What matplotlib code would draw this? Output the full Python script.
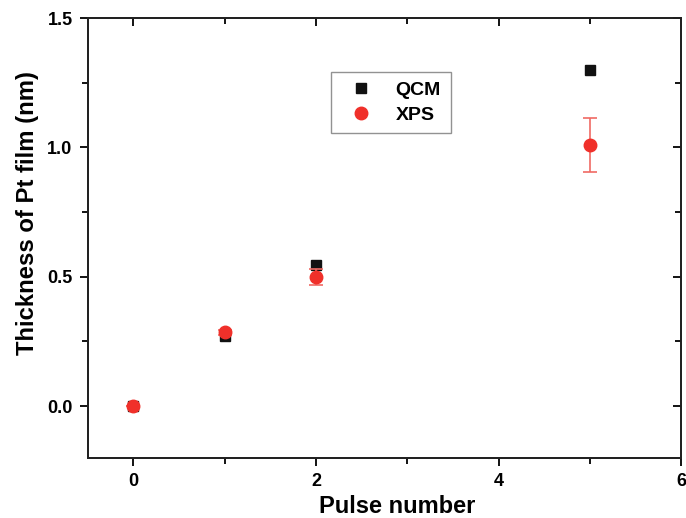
import matplotlib
matplotlib.use('Agg')
import matplotlib.pyplot as plt
from matplotlib.ticker import MultipleLocator

plt.rcParams['font.family'] = ['Liberation Sans', 'DejaVu Sans']
plt.rcParams['font.weight'] = 'bold'

# data
pulses = [0, 1, 2, 5]
qcm = [0.0, 0.27, 0.545, 1.30]
xps = [0.0, 0.285, 0.50, 1.01]
xps_err = [0.0, 0.01, 0.03, 0.105]

fig = plt.figure(figsize=(6.86, 5.18), dpi=100)
ax = fig.add_axes([0.128, 0.116, 0.865, 0.849])

l1, = ax.plot(pulses, qcm, 's', color='#111111', markersize=7, label='QCM', zorder=3)
eb = ax.errorbar(pulses, xps, yerr=xps_err, fmt='o', color='#f0302a', ecolor='#f06a64',
                 markersize=9, elinewidth=1.2, capsize=5, capthick=1.2, label='XPS', zorder=4)

ax.set_xlim(-0.5, 6)
ax.set_ylim(-0.2, 1.5)
ax.xaxis.set_major_locator(MultipleLocator(2))
ax.xaxis.set_minor_locator(MultipleLocator(1))
ax.yaxis.set_major_locator(MultipleLocator(0.5))
ax.yaxis.set_minor_locator(MultipleLocator(0.25))
ax.yaxis.set_major_formatter(plt.FormatStrFormatter('%.1f'))

ax.tick_params(which='both', direction='out', width=1.3, labelsize=13, pad=5)
ax.tick_params(which='major', length=6)
ax.tick_params(which='minor', length=4)
for s in ax.spines.values():
    s.set_linewidth(1.3)
    s.set_color('#222222')

# inward ticks on top and right
axt = ax.twiny()
axt.set_xlim(ax.get_xlim())
axt.xaxis.set_major_locator(MultipleLocator(2))
axt.xaxis.set_minor_locator(MultipleLocator(1))
axt.tick_params(which='both', direction='in', width=1.3, labeltop=False)
axt.tick_params(which='major', length=6)
axt.tick_params(which='minor', length=4)
axr = ax.twinx()
axr.set_ylim(ax.get_ylim())
axr.yaxis.set_major_locator(MultipleLocator(0.5))
axr.yaxis.set_minor_locator(MultipleLocator(0.25))
axr.tick_params(which='both', direction='in', width=1.3, labelright=False)
axr.tick_params(which='major', length=6)
axr.tick_params(which='minor', length=4)
for a in (axt, axr):
    for s in a.spines.values():
        s.set_linewidth(1.3)
        s.set_color('#222222')

ax.set_xlabel('Pulse number', fontsize=17, fontweight='bold')
ax.xaxis.set_label_coords(0.521, -0.084)
ax.set_ylabel('Thickness of Pt film (nm)', fontsize=17.2, fontweight='bold')
ax.yaxis.set_label_coords(-0.083, 0.557)

leg = axr.legend([l1, eb[0]], ['QCM', 'XPS'], loc='upper left', bbox_to_anchor=(0.469, 0.880),
                 bbox_transform=fig.transFigure, fancybox=False, edgecolor='#777777',
                 handletextpad=0.8, borderpad=0.5, labelspacing=0.35,
                 prop={'weight': 'bold', 'size': 14})
leg.get_frame().set_linewidth(1.0)

fig.savefig('out.png', dpi=100)
